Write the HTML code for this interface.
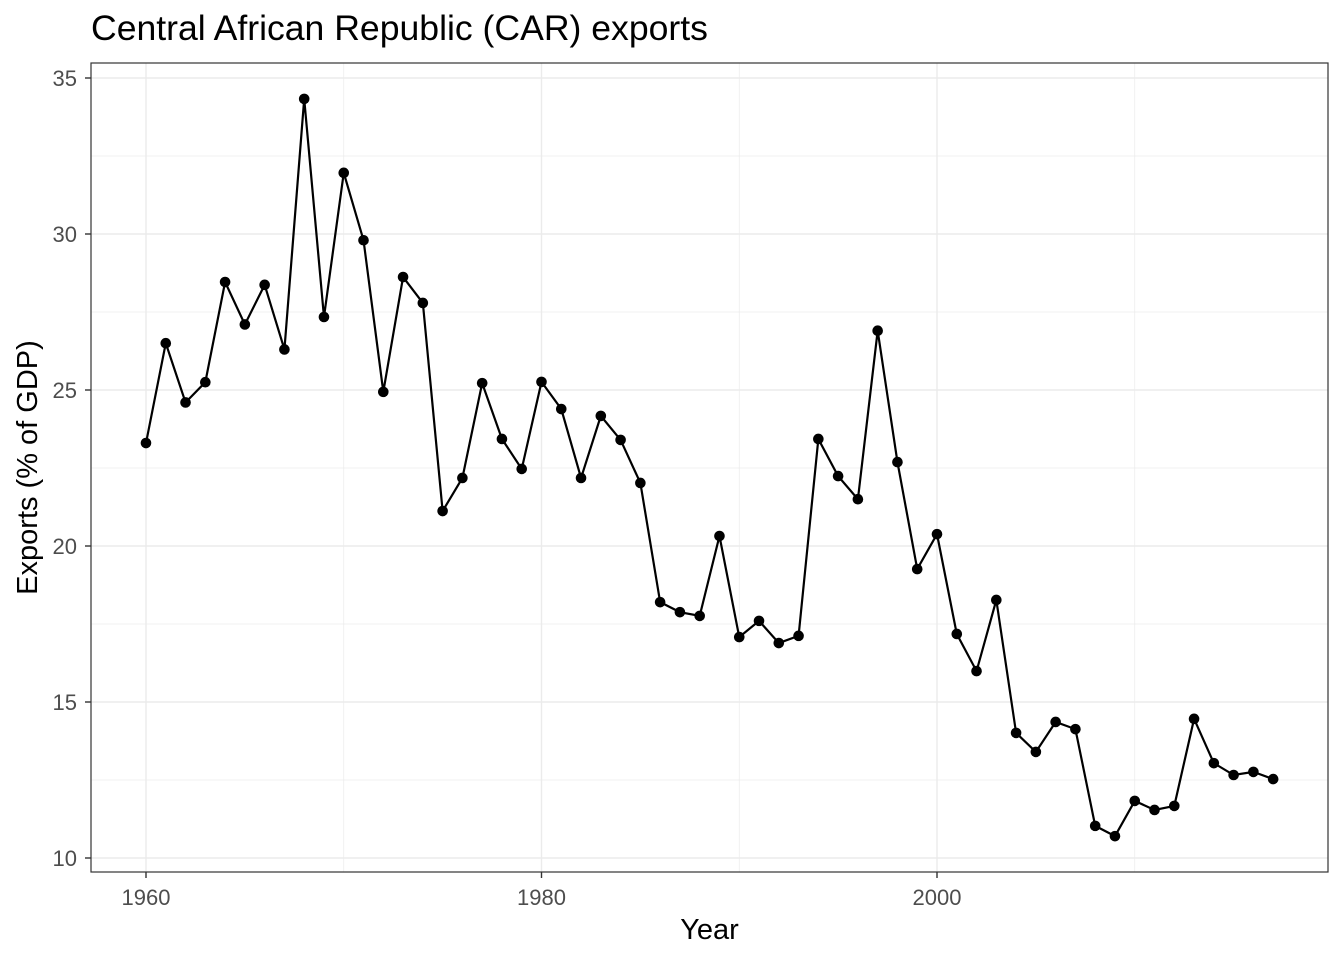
<!DOCTYPE html>
<html><head><meta charset="utf-8"><style>body{margin:0;background:#fff}svg{display:block}text{font-family:"Liberation Sans",sans-serif}</style></head>
<body>
<svg id="c" width="1344" height="960" xmlns="http://www.w3.org/2000/svg"></svg>
<script>
const years=[1960,1961,1962,1963,1964,1965,1966,1967,1968,1969,1970,1971,1972,1973,1974,1975,1976,1977,1978,1979,1980,1981,1982,1983,1984,1985,1986,1987,1988,1989,1990,1991,1992,1993,1994,1995,1996,1997,1998,1999,2000,2001,2002,2003,2004,2005,2006,2007,2008,2009,2010,2011,2012,2013,2014,2015,2016,2017];
const exportsPct=[23.3,26.5,24.6,25.25,28.46,27.1,28.37,26.3,34.33,27.34,31.96,29.8,24.94,28.62,27.79,21.12,22.18,25.22,23.43,22.47,25.26,24.39,22.18,24.17,23.4,22.02,18.2,17.88,17.76,20.32,17.08,17.6,16.89,17.12,23.43,22.24,21.5,26.9,22.69,19.26,20.38,17.18,15.99,18.27,14.01,13.4,14.36,14.13,11.03,10.7,11.83,11.54,11.67,14.46,13.04,12.66,12.76,12.53];
const xTicks=[1960,1980,2000];
const yTicks=[10,15,20,25,30,35];
const NS="http://www.w3.org/2000/svg",svg=document.getElementById('c');
const L=91,T=63,R=1328,B=872;
const x=v=>146+(v-1960)*(937-146)/40;
const y=v=>858-(v-10)*(858-78)/25;
function el(t,a,p){const e=document.createElementNS(NS,t);for(const k in a)e.setAttribute(k,a[k]);(p||svg).appendChild(e);return e;}
const g=el('g',{});

for(let v=1950;v<=2030;v+=10){const px=x(v);if(px>L&&px<R)el('line',{x1:px,x2:px,y1:T,y2:B,stroke:'#ebebeb','stroke-width':v%20==0?1.4:0.7},g);}
for(let v=7.5;v<=37.5;v+=2.5){const py=y(v);if(py>T&&py<B)el('line',{x1:L,x2:R,y1:py,y2:py,stroke:'#ebebeb','stroke-width':v%5==0?1.4:0.7},g);}
const pts=years.map((yr,i)=>x(yr)+','+y(exportsPct[i])).join(' ');
const line=el('polyline',{points:pts,fill:'none',stroke:'#000','stroke-width':2.2});

years.forEach((yr,i)=>{const c=el('circle',{cx:x(yr),cy:y(exportsPct[i]),r:5.3,fill:'#000'});

});
const fr=el('rect',{x:L,y:T,width:R-L,height:B-T,fill:'none',stroke:'#333','stroke-width':1.2});

xTicks.forEach(v=>{el('line',{x1:x(v),x2:x(v),y1:B,y2:B+6,stroke:'#333','stroke-width':1.4});
const t=el('text',{x:x(v),y:B+33,'text-anchor':'middle','font-size':22,fill:'#4d4d4d'});t.textContent=v;
});
yTicks.forEach(v=>{el('line',{x1:L-6,x2:L,y1:y(v),y2:y(v),stroke:'#333','stroke-width':1.4});
const t=el('text',{x:L-14,y:y(v)+8,'text-anchor':'end','font-size':22,fill:'#4d4d4d'});t.textContent=v;
});
let t=el('text',{x:(L+R)/2,y:939,'text-anchor':'middle','font-size':29,fill:'#000'});t.textContent='Year';

t=el('text',{x:0,y:0,'text-anchor':'middle','font-size':29,fill:'#000',transform:`translate(37,${(T+B)/2}) rotate(-90)`});t.textContent='Exports (% of GDP)';

t=el('text',{x:91,y:40,'font-size':35.6,fill:'#000'});t.textContent='Central African Republic (CAR) exports';

</script>
</body></html>
